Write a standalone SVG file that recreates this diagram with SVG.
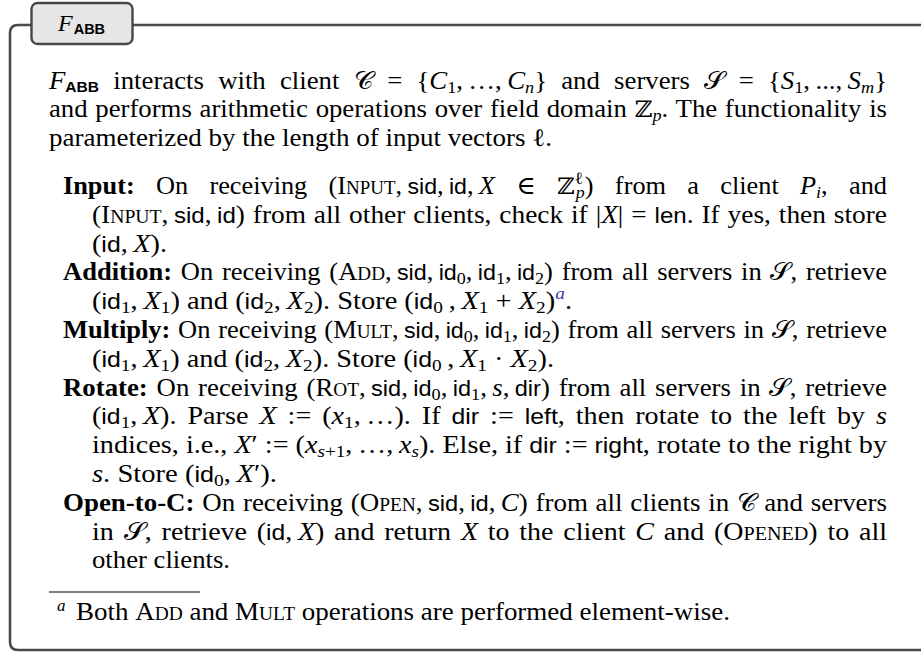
<svg xmlns="http://www.w3.org/2000/svg" width="921" height="652" viewBox="0 0 921 652">
<style>
.t{font-family:"Liberation Serif","DejaVu Serif",serif;font-size:25px;fill:#000}
.i{font-style:italic}
.b{font-weight:bold}
.sc{font-variant:small-caps}
.sf{font-family:"Liberation Sans","DejaVu Sans",sans-serif;font-size:22px}
.sfb{font-family:"Liberation Sans","DejaVu Sans",sans-serif;font-weight:bold;font-size:14.5px;baseline-shift:-3px}
.bb{font-family:"DejaVu Serif","DejaVu Sans",serif;font-size:23px}
.cal{font-family:"DejaVu Serif","DejaVu Sans","Noto Sans",serif}
.sub{font-size:17px;baseline-shift:-4px}
.sup{font-size:17px;baseline-shift:10px}
.fn{fill:#3b3bb3}
.frame{fill:none;stroke:#4a4a4a;stroke-width:2.6}
.tab{fill:#e6e6e6;stroke:#474747;stroke-width:2.4}
.rule{stroke:#555;stroke-width:1.3}
</style>
<g id="frame">
<path class="frame" d="M921,25 H18 Q10,25 10,33 V642 Q10,650 18,650 H921"/>
</g>
<g id="title-tab">
<rect class="tab" x="31.5" y="3" width="101" height="41" rx="6"/>
<text class="t" x="58" y="31" style="font-size:24px"><tspan class="i">F</tspan><tspan class="sfb" dx="1">ABB</tspan></text>
</g>
<g id="intro">
<text class="t" x="49" y="88.5" textLength="838" lengthAdjust="spacingAndGlyphs" style="word-spacing:7px"><tspan class="i">F</tspan><tspan class="sfb">ABB</tspan> interacts with client <tspan class="cal">𝒞</tspan> = {<tspan class="i">C</tspan><tspan class="sub">1</tspan>,&#8201;…,&#8201;<tspan class="i">C</tspan><tspan class="i sub">n</tspan>} and servers <tspan class="cal">𝒮</tspan> = {<tspan class="i">S</tspan><tspan class="sub">1</tspan>,&#8201;...,&#8201;<tspan class="i">S</tspan><tspan class="i sub">m</tspan>}</text>
<text class="t" x="49" y="117.3" textLength="838" lengthAdjust="spacingAndGlyphs" style="word-spacing:1px">and performs arithmetic operations over field domain <tspan class="bb">ℤ</tspan><tspan class="i sub">p</tspan>. The functionality is</text>
<text class="t" x="49" y="146" textLength="503" lengthAdjust="spacingAndGlyphs">parameterized by the length of input vectors ℓ.</text>
</g>
<g id="item-input">
<text class="t" x="63" y="194" textLength="824" lengthAdjust="spacingAndGlyphs" style="word-spacing:14px"><tspan class="b">Input:</tspan> On receiving (<tspan class="sc">Input</tspan>,&#8201;<tspan class="sf">sid</tspan>,&#8201;<tspan class="sf">id</tspan>,&#8201;<tspan class="i">X</tspan> ∈ <tspan class="bb">ℤ</tspan><tspan class="sup">ℓ</tspan><tspan class="i sub" dx="-7">p</tspan>) from a client <tspan class="i">P</tspan><tspan class="i sub">i</tspan>, and</text>
<text class="t" x="92" y="222.8" textLength="795" lengthAdjust="spacingAndGlyphs" style="word-spacing:1px">(<tspan class="sc">Input</tspan>,&#8201;<tspan class="sf">sid</tspan>,&#8201;<tspan class="sf">id</tspan>) from all other clients, check if |<tspan class="i">X</tspan>| = <tspan class="sf">len</tspan>. If yes, then store</text>
<text class="t" x="92" y="251.6" textLength="75" lengthAdjust="spacingAndGlyphs">(<tspan class="sf">id</tspan>,&#8201;<tspan class="i">X</tspan>).</text>
</g>
<g id="item-addition">
<text class="t" x="63" y="280.4" textLength="824" lengthAdjust="spacingAndGlyphs" style="word-spacing:2px"><tspan class="b">Addition:</tspan> On receiving (<tspan class="sc">Add</tspan>,&#8201;<tspan class="sf">sid</tspan>,&#8201;<tspan class="sf">id</tspan><tspan class="sub">0</tspan>,&#8201;<tspan class="sf">id</tspan><tspan class="sub">1</tspan>,&#8201;<tspan class="sf">id</tspan><tspan class="sub">2</tspan>) from all servers in <tspan class="cal">𝒮</tspan>, retrieve</text>
<text class="t" x="92" y="309.2" textLength="480" lengthAdjust="spacingAndGlyphs">(<tspan class="sf">id</tspan><tspan class="sub">1</tspan>,&#8201;<tspan class="i">X</tspan><tspan class="sub">1</tspan>) and (<tspan class="sf">id</tspan><tspan class="sub">2</tspan>,&#8201;<tspan class="i">X</tspan><tspan class="sub">2</tspan>). Store (<tspan class="sf">id</tspan><tspan class="sub">0</tspan>&#8201;,&#8201;<tspan class="i">X</tspan><tspan class="sub">1</tspan>&#8197;+&#8197;<tspan class="i">X</tspan><tspan class="sub">2</tspan>)<tspan class="sup i fn">a</tspan>.</text>
</g>
<g id="item-multiply">
<text class="t" x="63" y="338" textLength="824" lengthAdjust="spacingAndGlyphs" style="word-spacing:1px"><tspan class="b">Multiply:</tspan> On receiving (<tspan class="sc">Mult</tspan>,&#8201;<tspan class="sf">sid</tspan>,&#8201;<tspan class="sf">id</tspan><tspan class="sub">0</tspan>,&#8201;<tspan class="sf">id</tspan><tspan class="sub">1</tspan>,&#8201;<tspan class="sf">id</tspan><tspan class="sub">2</tspan>) from all servers in <tspan class="cal">𝒮</tspan>, retrieve</text>
<text class="t" x="92" y="366.8" textLength="462" lengthAdjust="spacingAndGlyphs">(<tspan class="sf">id</tspan><tspan class="sub">1</tspan>,&#8201;<tspan class="i">X</tspan><tspan class="sub">1</tspan>) and (<tspan class="sf">id</tspan><tspan class="sub">2</tspan>,&#8201;<tspan class="i">X</tspan><tspan class="sub">2</tspan>). Store (<tspan class="sf">id</tspan><tspan class="sub">0</tspan>&#8201;,&#8201;<tspan class="i">X</tspan><tspan class="sub">1</tspan>&#8197;·&#8197;<tspan class="i">X</tspan><tspan class="sub">2</tspan>).</text>
</g>
<g id="item-rotate">
<text class="t" x="63" y="395.6" textLength="824" lengthAdjust="spacingAndGlyphs" style="word-spacing:2px"><tspan class="b">Rotate:</tspan> On receiving (<tspan class="sc">Rot</tspan>,&#8201;<tspan class="sf">sid</tspan>,&#8201;<tspan class="sf">id</tspan><tspan class="sub">0</tspan>,&#8201;<tspan class="sf">id</tspan><tspan class="sub">1</tspan>,&#8201;<tspan class="i">s</tspan>,&#8201;<tspan class="sf">dir</tspan>) from all servers in <tspan class="cal">𝒮</tspan>, retrieve</text>
<text class="t" x="92" y="424.4" textLength="795" lengthAdjust="spacingAndGlyphs" style="word-spacing:3.5px">(<tspan class="sf">id</tspan><tspan class="sub">1</tspan>,&#8201;<tspan class="i">X</tspan>). Parse <tspan class="i">X</tspan> := (<tspan class="i">x</tspan><tspan class="sub">1</tspan>,&#8201;…). If <tspan class="sf">dir</tspan> := <tspan class="sf">left</tspan>, then rotate to the left by <tspan class="i">s</tspan></text>
<text class="t" x="92" y="453.2" textLength="795" lengthAdjust="spacingAndGlyphs">indices, i.e., <tspan class="i">X</tspan>′ := (<tspan class="i">x</tspan><tspan class="sub"><tspan class="i">s</tspan>+1</tspan>,&#8201;…,&#8201;<tspan class="i">x</tspan><tspan class="i sub">s</tspan>). Else, if <tspan class="sf">dir</tspan> := <tspan class="sf">right</tspan>, rotate to the right by</text>
<text class="t" x="92" y="482" textLength="185" lengthAdjust="spacingAndGlyphs"><tspan class="i">s</tspan>. Store (<tspan class="sf">id</tspan><tspan class="sub">0</tspan>,&#8201;<tspan class="i">X</tspan>′).</text>
</g>
<g id="item-open">
<text class="t" x="63" y="510.8" textLength="824" lengthAdjust="spacingAndGlyphs" style="word-spacing:1px"><tspan class="b">Open-to-C:</tspan> On receiving (<tspan class="sc">Open</tspan>,&#8201;<tspan class="sf">sid</tspan>,&#8201;<tspan class="sf">id</tspan>,&#8201;<tspan class="i">C</tspan>) from all clients in <tspan class="cal">𝒞</tspan> and servers</text>
<text class="t" x="92" y="539.6" textLength="795" lengthAdjust="spacingAndGlyphs" style="word-spacing:2.5px">in <tspan class="cal">𝒮</tspan>, retrieve (<tspan class="sf">id</tspan>,&#8201;<tspan class="i">X</tspan>) and return <tspan class="i">X</tspan> to the client <tspan class="i">C</tspan> and (<tspan class="sc">Opened</tspan>) to all</text>
<text class="t" x="92" y="568.4" textLength="138" lengthAdjust="spacingAndGlyphs">other clients.</text>
</g>
<g id="footnote">
<line class="rule" x1="49" y1="592" x2="200" y2="592"/>
<text class="t i" x="57" y="611" style="font-size:17px">a</text>
<text class="t" x="76" y="620" textLength="654" lengthAdjust="spacingAndGlyphs">Both <tspan class="sc">Add</tspan> and <tspan class="sc">Mult</tspan> operations are performed element-wise.</text>
</g>
</svg>
